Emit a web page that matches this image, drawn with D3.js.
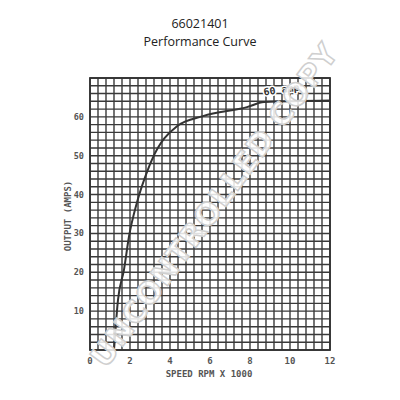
<!DOCTYPE html>
<html>
<head>
<meta charset="utf-8">
<script src="https://cdn.jsdelivr.net/npm/d3@7"></script>
<style>
  body { margin: 0; background: #fff; }
  svg { display: block; }
</style>
</head>
<body>
<div id="chart"></div>
<script>
const titleLines = ["66021401", "Performance Curve"];
const rpm  = [1.2, 1.4, 1.7, 1.95, 2.35, 2.9, 3.1, 4.35, 5.65, 7.85, 8.7, 12];
const amps = [0, 12.9, 20.7, 29.2, 38, 46.5, 49, 57.6, 60.2, 62.5, 63.8, 64.2];
const xTicks = [0, 2, 4, 6, 8, 10, 12];
const yTicks = [10, 20, 30, 40, 50, 60];
const curveLabel = "60 amp";

const W = 400, H = 400;
const m = { top: 78, right: 70, bottom: 50, left: 90 };
const innerW = W - m.left - m.right;   // 240
const innerH = H - m.top - m.bottom;   // 272

const svg = d3.select("#chart").append("svg")
    .attr("width", W).attr("height", H)
    .attr("viewBox", `0 0 ${W} ${H}`);

svg.selectAll("text.title").data(titleLines).join("text")
    .attr("class", "title")
    .attr("x", 200).attr("y", (d, i) => 28 + i * 18)
    .attr("text-anchor", "middle")
    .style("font-family", "'Open Sans', sans-serif")
    .style("font-size", "12.5px")
    .style("fill", "#222")
    .text(d => d);

const x = d3.scaleLinear().domain([0, 12]).range([0, innerW]);
const y = d3.scaleLinear().domain([0, 70]).range([innerH, 0]);

const g = svg.append("g").attr("transform", `translate(${m.left},${m.top})`);

// grid: 0.4k rpm columns, 2 amp rows
const xGrid = d3.range(0, 30 + 1).map(i => i * 0.4);
const yGrid = d3.range(0, 35 + 1).map(i => i * 2);

g.append("rect").attr("width", innerW).attr("height", innerH).attr("fill", "#fff");
g.selectAll("line.vx").data(xGrid).join("line")
    .attr("class", "vx")
    .attr("x1", d => x(d)).attr("x2", d => x(d))
    .attr("y1", 0).attr("y2", innerH)
    .attr("stroke", "#3a3a3a").attr("stroke-width", 1.4);
g.selectAll("line.hy").data(yGrid).join("line")
    .attr("class", "hy")
    .attr("y1", d => y(d)).attr("y2", d => y(d))
    .attr("x1", 0).attr("x2", innerW)
    .attr("stroke", "#3a3a3a").attr("stroke-width", 1.4);
g.append("rect").attr("width", innerW).attr("height", innerH)
    .attr("fill", "none").attr("stroke", "#333").attr("stroke-width", 1.8);

const labelFont = "'DejaVu Sans Mono', monospace";

g.selectAll("text.xt").data(xTicks).join("text")
    .attr("class", "xt")
    .attr("x", d => x(d)).attr("y", innerH + 14)
    .attr("text-anchor", "middle")
    .style("font-family", labelFont).style("font-weight", "bold")
    .style("font-size", "9px").style("fill", "#555")
    .text(d => d);

g.selectAll("text.yt").data(yTicks).join("text")
    .attr("class", "yt")
    .attr("x", -6).attr("y", d => y(d) + 3)
    .attr("text-anchor", "end")
    .style("font-family", labelFont).style("font-weight", "bold")
    .style("font-size", "8.5px").style("fill", "#555")
    .text(d => d);

g.append("text")
    .attr("x", x(6) - 1).attr("y", innerH + 27)
    .attr("text-anchor", "middle")
    .style("font-family", labelFont).style("font-weight", "bold")
    .style("font-size", "9px").style("fill", "#555")
    .text("SPEED RPM X 1000");

g.append("text")
    .attr("transform", `translate(-19,${y(35) + 2}) rotate(-90)`)
    .attr("text-anchor", "middle")
    .style("font-family", labelFont).style("font-weight", "bold")
    .style("font-size", "9px").style("fill", "#555")
    .text("OUTPUT (AMPS)");

const pts = rpm.map((r, i) => [r, amps[i]]);
g.append("path").datum(pts)
    .attr("fill", "none").attr("stroke", "#333").attr("stroke-width", 2)
    .attr("d", d3.line().x(d => x(d[0])).y(d => y(d[1])).curve(d3.curveMonotoneX));

g.append("text")
    .attr("transform", `translate(${x(8.7)},${y(65.5)}) rotate(-8)`)
    .style("font-family", labelFont).style("font-weight", "bold")
    .style("font-size", "10px").style("fill", "#333")
    .style("paint-order", "stroke").style("stroke", "#fff").style("stroke-width", 3)
    .text(curveLabel);

// watermark
svg.append("text")
    .attr("transform", "translate(216,206) rotate(-53.5)")
    .attr("text-anchor", "middle").attr("dominant-baseline", "middle")
    .style("font-family", "'DejaVu Sans', sans-serif").style("font-weight", "bold")
    .style("font-size", "30px").style("letter-spacing", "1px")
    .style("fill", "#fff").style("fill-opacity", 0.85)
    .style("stroke", "#cfcfcf").style("stroke-width", 1.5)
    .text("UNCONTROLLED COPY");
</script>
</body>
</html>
